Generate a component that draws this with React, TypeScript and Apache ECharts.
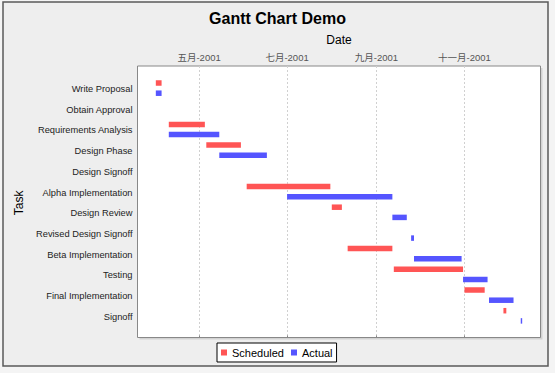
import React, { useEffect, useRef } from "react";
import * as echarts from "echarts";

const tasks = [
  "Write Proposal",
  "Obtain Approval",
  "Requirements Analysis",
  "Design Phase",
  "Design Signoff",
  "Alpha Implementation",
  "Design Review",
  "Revised Design Signoff",
  "Beta Implementation",
  "Testing",
  "Final Implementation",
  "Signoff",
];

const scheduledStart = [
  "2001-04-01", "2001-04-09", "2001-04-10", "2001-05-06", "2001-06-02", "2001-06-03",
  "2001-08-01", "2001-08-10", "2001-08-12", "2001-09-13", "2001-11-01", "2001-11-28",
];
const scheduledEnd = [
  "2001-04-05", "2001-04-09", "2001-05-05", "2001-05-30", "2001-06-02", "2001-07-31",
  "2001-08-08", "2001-08-10", "2001-09-12", "2001-10-31", "2001-11-15", "2001-11-30",
];
const actualStart = [
  "2001-04-01", "2001-04-09", "2001-04-10", "2001-05-15", "2001-06-30", "2001-07-01",
  "2001-09-12", "2001-09-25", "2001-09-27", "2001-10-31", "2001-11-18", "2001-12-10",
];
const actualEnd = [
  "2001-04-05", "2001-04-09", "2001-05-15", "2001-06-17", "2001-06-30", "2001-09-12",
  "2001-09-22", "2001-09-27", "2001-10-30", "2001-11-17", "2001-12-05", "2001-12-11",
];

const tickDates = ["2001-05-01", "2001-07-01", "2001-09-01", "2001-11-01"];
const tickLabels = ["五月-2001", "七月-2001", "九月-2001", "十一月-2001"];

const seriesNames = ["Scheduled", "Actual"];

const ms = (d: string) => {
  const [y, m, dd] = d.split("-").map(Number);
  return Date.UTC(y, m - 1, dd);
};

export default function App() {
  const ref = useRef<HTMLDivElement>(null);
  useEffect(() => {
    const chart = echarts.init(ref.current!, null, { renderer: "svg" });
    const all = [...scheduledStart, ...scheduledEnd, ...actualStart, ...actualEnd].map(ms);
    const lo = Math.min(...all);
    const hi = Math.max(...all);
    const span = hi - lo;
    const xMin = lo - 0.05 * span;
    const xMax = hi + 0.05 * span;
    const tickValues = tickDates.map(ms);
    const font = "'Liberation Sans', 'Noto Sans CJK SC', sans-serif";

    const mk = (starts: string[], ends: string[]) =>
      tasks.map((_, i) => [i, ms(starts[i]), ms(ends[i])]);

    const render = (color: string, offset: number) => (params: any, api: any) => {
      const c = api.value(0);
      const s = api.coord([api.value(1), c]);
      const e = api.coord([api.value(2), c]);
      const w = e[0] - s[0];
      if (w <= 0) return { type: "group", children: [] };
      return {
        type: "rect",
        shape: { x: s[0], y: s[1] + offset - 2.75, width: w, height: 5.5 },
        style: { fill: color },
      };
    };

    chart.setOption({
      animation: false,
      backgroundColor: "#f4f4f4",
      textStyle: { fontFamily: font },
      title: {
        text: "Gantt Chart Demo",
        left: "center",
        top: 5,
        textStyle: { fontSize: 16, fontWeight: "bold", color: "#000", fontFamily: font },
      },
      graphic: [
        {
          type: "rect",
          z: -10,
          shape: { x: 3, y: 2, width: 545, height: 364 },
          style: { fill: "#eeeeee", stroke: "#5a5a5a", lineWidth: 1.5 },
        },
        {
          type: "rect",
          z: -5,
          shape: { x: 139.5, y: 68, width: 403, height: 271.5 },
          style: { fill: "#d2d2d2" },
        },
      ],
      legend: {
        left: 217,
        top: 343,
        padding: [4, 4, 4, 4],
        itemGap: 7,
        itemWidth: 6,
        itemHeight: 6,
        icon: "rect",
        borderColor: "#000",
        borderWidth: 1,
        backgroundColor: "#fff",
        textStyle: { fontSize: 11, color: "#000", fontFamily: font },
        data: seriesNames,
      },
      grid: [
        {
          left: 137.5, top: 66, width: 403, height: 271.5,
          show: true, backgroundColor: "#fff", borderColor: "#888", borderWidth: 1,
        },
        { left: 137.5, top: 78.65, width: 403, height: 248.4 },
      ],
      xAxis: [
        {
          gridIndex: 0,
          type: "value",
          position: "top",
          min: xMin,
          max: xMax,
          name: "Date",
          nameLocation: "middle",
          nameGap: 20,
          nameTextStyle: { fontSize: 12, color: "#000", fontFamily: font },
          axisLine: { show: false },
          axisTick: { show: true, length: 2, customValues: tickValues, lineStyle: { color: "#888" } },
          axisLabel: {
            customValues: tickValues,
            formatter: (v: number) => {
              const i = tickValues.indexOf(v);
              return i >= 0 ? tickLabels[i] : "";
            },
            fontSize: 9.5,
            color: "#555",
            margin: 4,
            fontFamily: font,
          },
          splitLine: { show: true, lineStyle: { color: "#d0d0d0", type: [2, 2] } },
        },
        { gridIndex: 1, type: "value", min: xMin, max: xMax, show: false },
      ],
      yAxis: [
        { gridIndex: 0, type: "value", min: 0, max: 1, show: false },
        {
          gridIndex: 1,
          type: "category",
          data: tasks,
          inverse: true,
          axisLine: { show: false },
          axisTick: { show: false },
          splitLine: { show: false },
          axisLabel: { fontSize: 9.3, color: "#222", margin: 5, fontFamily: font },
          name: "Task",
          nameLocation: "middle",
          nameRotate: 90,
          nameGap: 111,
          nameTextStyle: { fontSize: 12, color: "#000", fontFamily: font },
        },
      ],
      series: [
        {
          name: seriesNames[0],
          type: "custom",
          xAxisIndex: 1,
          yAxisIndex: 1,
          itemStyle: { color: "#ff5555" },
          encode: { x: [1, 2], y: 0 },
          renderItem: render("#ff5555", -6),
          data: mk(scheduledStart, scheduledEnd),
        },
        {
          name: seriesNames[1],
          type: "custom",
          xAxisIndex: 1,
          yAxisIndex: 1,
          itemStyle: { color: "#5555ff" },
          encode: { x: [1, 2], y: 0 },
          renderItem: render("#5555ff", 4.2),
          data: mk(actualStart, actualEnd),
        },
      ],
    });
    return () => chart.dispose();
  }, []);
  return (
    <div
      ref={ref}
      style={{ position: "fixed", left: 0, top: 0, width: 555, height: 373 }}
    />
  );
}
